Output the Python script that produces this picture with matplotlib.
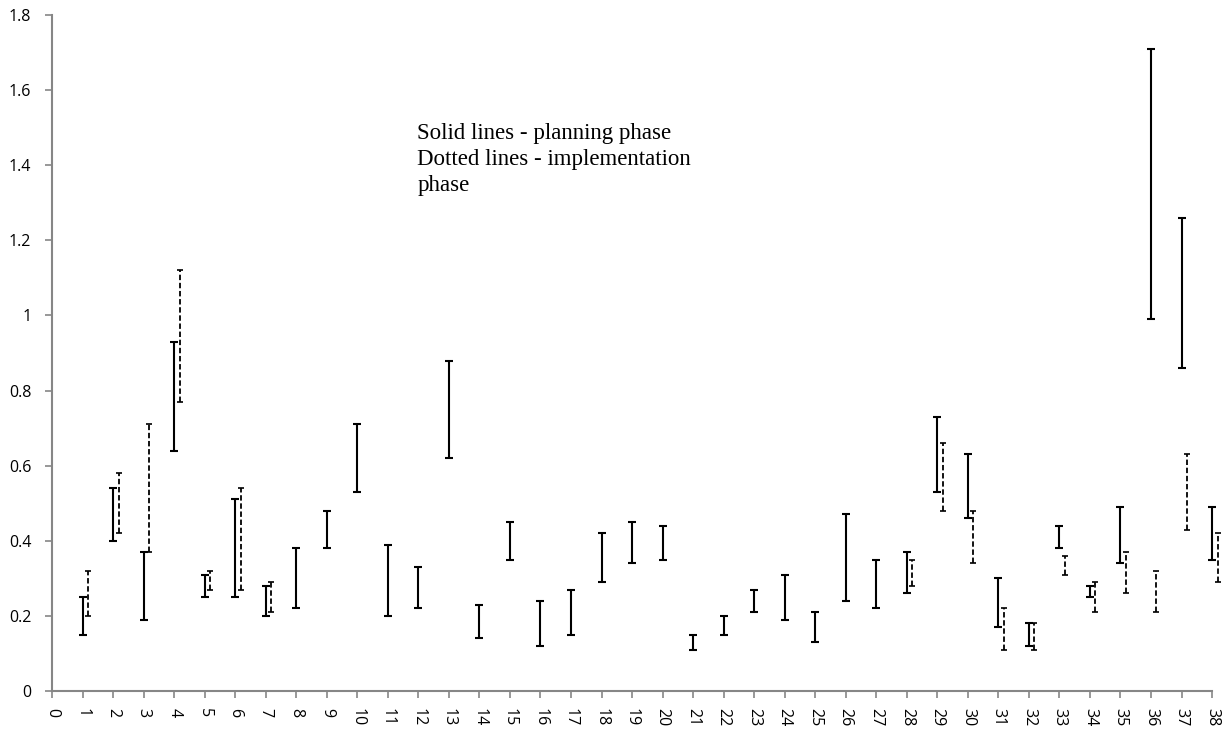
import numpy as np
import matplotlib.pyplot as plt

# Интервалы по проектам: фаза планирования (сплошные линии)
plan_x = list(range(1, 39))
plan_low = [0.15, 0.40, 0.19, 0.64, 0.25, 0.25, 0.20, 0.22, 0.38, 0.53,
            0.20, 0.22, 0.62, 0.14, 0.35, 0.12, 0.15, 0.29, 0.34, 0.35,
            0.11, 0.15, 0.21, 0.19, 0.13, 0.24, 0.22, 0.26, 0.53, 0.46,
            0.17, 0.12, 0.38, 0.25, 0.34, 0.99, 0.86, 0.35]
plan_high = [0.25, 0.54, 0.37, 0.93, 0.31, 0.51, 0.28, 0.38, 0.48, 0.71,
             0.39, 0.33, 0.88, 0.23, 0.45, 0.24, 0.27, 0.42, 0.45, 0.44,
             0.15, 0.20, 0.27, 0.31, 0.21, 0.47, 0.35, 0.37, 0.73, 0.63,
             0.30, 0.18, 0.44, 0.28, 0.49, 1.71, 1.26, 0.49]

# Фаза реализации (пунктирные линии)
impl_x = [1, 2, 3, 4, 5, 6, 7, 28, 29, 30, 31, 32, 33, 34, 35, 36, 37, 38]
impl_low = [0.20, 0.42, 0.37, 0.77, 0.27, 0.27, 0.21, 0.28, 0.48, 0.34,
            0.11, 0.11, 0.31, 0.21, 0.26, 0.21, 0.43, 0.29]
impl_high = [0.32, 0.58, 0.71, 1.12, 0.32, 0.54, 0.29, 0.35, 0.66, 0.48,
             0.22, 0.18, 0.36, 0.29, 0.37, 0.32, 0.63, 0.42]

x_ticks = list(range(0, 39))
y_ticks = [0, 0.2, 0.4, 0.6, 0.8, 1, 1.2, 1.4, 1.6, 1.8]
y_labels = ['0', '0.2', '0.4', '0.6', '0.8', '1', '1.2', '1.4', '1.6', '1.8']

fig = plt.figure(figsize=(12.3, 7.32), dpi=100)
ax = fig.add_axes([0.0423, 0.056, 0.9431, 0.9235])

# Сплошные интервалы
pl = np.array(plan_low)
ph = np.array(plan_high)
eb1 = ax.errorbar(plan_x, (pl + ph) / 2, yerr=(ph - pl) / 2, fmt='none',
                  ecolor='black', elinewidth=1.5, capsize=3.2, capthick=1.5)

# Пунктирные интервалы, немного сдвинуты вправо
il = np.array(impl_low)
ih = np.array(impl_high)
eb2 = ax.errorbar(np.array(impl_x) + 0.18, (il + ih) / 2, yerr=(ih - il) / 2,
                  fmt='none', ecolor='black', elinewidth=1.3, capsize=2.4,
                  capthick=1.2)
eb2[2][0].set_linestyle((0, (3, 1.5)))

# последний столбец выходит за край оси
for eb in (eb1, eb2):
    for art in list(eb[1]) + list(eb[2]):
        art.set_clip_on(False)

ax.set_xlim(0, 38)
ax.set_ylim(0, 1.8)
ax.set_xticks(x_ticks)
ax.set_xticklabels([str(t) for t in x_ticks], rotation=-90,
                   fontsize=11.5, family='Open Sans')
ax.set_yticks(y_ticks)
ax.set_yticklabels(y_labels, fontsize=11.5, family='Open Sans')

for s in ['top', 'right']:
    ax.spines[s].set_visible(False)
for s in ['left', 'bottom']:
    ax.spines[s].set_color('#868686')
    ax.spines[s].set_linewidth(1.5)
ax.tick_params(axis='both', color='#868686', length=5, width=1.2,
               direction='out')
ax.tick_params(axis='y', pad=10)
ax.tick_params(axis='x', pad=7)

ax.text(11.96, 1.513, 'Solid lines - planning phase\nDotted lines - implementation\nphase',
        family='Liberation Serif', fontsize=16.5, va='top', ha='left',
        linespacing=1.32)

plt.savefig('out.png', dpi=100)
